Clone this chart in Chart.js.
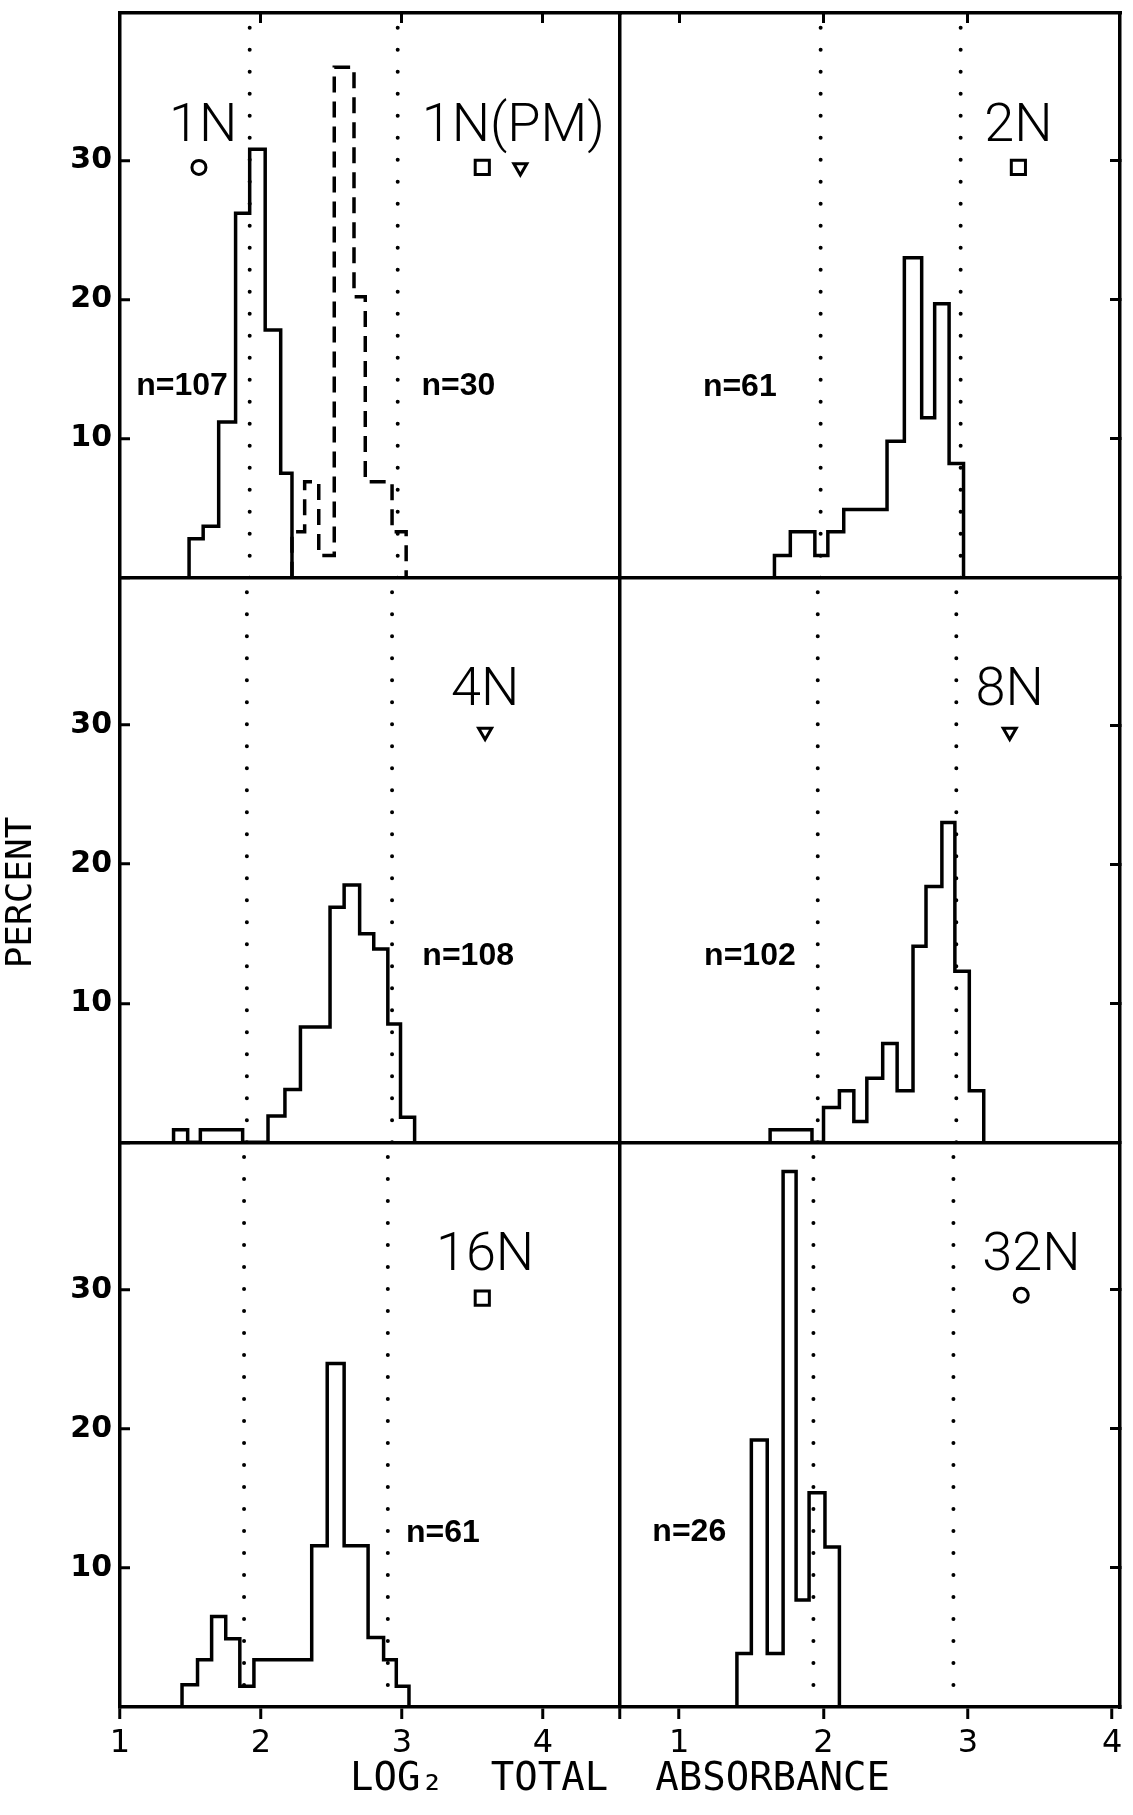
<!DOCTYPE html>
<html>
<head>
<meta charset="utf-8">
<script src="https://cdn.jsdelivr.net/npm/chart.js@4.4.1/dist/chart.umd.min.js"></script>
<style>
  html, body { margin: 0; padding: 0; background: #ffffff; }
  canvas { display: block; }
</style>
</head>
<body>
<canvas id="chart" width="1133" height="1815"></canvas>
<script>
// ---------------- data ----------------
const xTickValues     = [1, 2, 3, 4];
const yTickValues     = [10, 20, 30];
const topTicksLeft    = [2, 3, 4];
const topTicksRight   = [1, 2, 3];
const xLeftRange      = [1, 4.547];
const xRightRange     = [0.59, 4.054];
const yRange          = [0, 40.6];

// histogram bin edges (log2 total absorbance) and heights (percent)
const edges1N   = [1.49, 1.59, 1.70, 1.82, 1.92, 2.03, 2.14, 2.22];
const pct1N     = [2.8, 3.7, 11.2, 26.2, 30.8, 17.8, 7.5];
const edges1NPM = [2.22, 2.31, 2.41, 2.52, 2.66, 2.74, 2.93, 3.03];
const pct1NPM   = [3.3, 6.9, 1.6, 36.7, 20.2, 6.9, 3.3];
const edges2N   = [1.66, 1.77, 1.94, 2.03, 2.14, 2.44, 2.56, 2.68, 2.77, 2.87, 2.97];
const pct2N     = [1.6, 3.3, 1.6, 3.3, 4.9, 9.8, 23.0, 11.5, 19.7, 8.2];
const edges4N   = [1.38, 1.48, 1.57, 1.87, 2.05, 2.17, 2.28, 2.49, 2.59, 2.70, 2.80, 2.90, 2.99, 3.09];
const pct4N     = [0.9, 0, 0.9, 0, 1.9, 3.8, 8.3, 16.9, 18.5, 15.0, 13.9, 8.5, 1.8];
const edges8N   = [1.63, 1.92, 2.00, 2.11, 2.21, 2.30, 2.41, 2.51, 2.62, 2.71, 2.82, 2.91, 3.01, 3.11];
const pct8N     = [0.9, 0, 2.5, 3.7, 1.5, 4.6, 7.1, 3.7, 14.1, 18.4, 23.0, 12.3, 3.7];
const edges16N  = [1.44, 1.55, 1.65, 1.75, 1.85, 1.95, 2.36, 2.47, 2.59, 2.76, 2.87, 2.96, 3.05];
const pct16N    = [1.6, 3.4, 6.5, 4.9, 1.5, 3.4, 11.6, 24.7, 11.6, 5.0, 3.4, 1.5];
const edges32N  = [1.40, 1.50, 1.61, 1.72, 1.81, 1.90, 2.01, 2.11];
const pct32N    = [3.85, 19.2, 3.85, 38.5, 7.7, 15.4, 11.5];

// dotted reference lines per panel
const guides1N  = [1.92, 2.97];
const guides2N  = [1.98, 2.95];
const guides4N  = [1.90, 2.93];
const guides8N  = [1.96, 2.92];
const guides16N = [1.88, 2.90];
const guides32N = [1.93, 2.90];

// symbols under the panel names: [x, y, symbol]
const symbols1N  = [[1.56, 29.5, 'circle'], [3.57, 29.5, 'square'], [3.84, 29.5, 'triangle']];
const symbols2N  = [[3.35, 29.5, 'square']];
const symbols4N  = [[3.59, 29.5, 'triangle']];
const symbols8N  = [[3.29, 29.5, 'triangle']];
const symbols16N = [[3.57, 29.4, 'square']];
const symbols32N = [[3.37, 29.6, 'circle']];

// panel names and sample sizes: [text, x, y]
const names1N  = [['1N', 1.59, 32.4], ['1N(PM)', 3.79, 32.4]];
const names2N  = [['2N', 3.35, 32.4]];
const names4N  = [['4N', 3.59, 32.4]];
const names8N  = [['8N', 3.29, 32.4]];
const names16N = [['16N', 3.59, 32.4]];
const names32N = [['32N', 3.44, 32.4]];
const sizes1N  = [['n=107', 1.44, 13.8], ['n=30', 3.40, 13.8]];
const sizes2N  = [['n=61', 1.42, 13.7]];
const sizes4N  = [['n=108', 3.47, 13.4]];
const sizes8N  = [['n=102', 1.49, 13.4]];
const sizes16N = [['n=61', 3.29, 12.5]];
const sizes32N = [['n=26', 1.07, 12.6]];

const xTitle = 'LOG\u2082  TOTAL  ABSORBANCE';
const yTitle = 'PERCENT';

// ---------------- build chart ----------------
const BLACK = '#000000';
const CLEAR = 'rgba(0,0,0,0)';

const panels = [
  {x: 'xL', y: 'yT', hist: [[edges1N, pct1N, false], [edges1NPM, pct1NPM, true]], guides: guides1N, symbols: symbols1N, names: names1N, sizes: sizes1N},
  {x: 'xR', y: 'yT', hist: [[edges2N, pct2N, false]], guides: guides2N, symbols: symbols2N, names: names2N, sizes: sizes2N},
  {x: 'xL', y: 'yM', hist: [[edges4N, pct4N, false]], guides: guides4N, symbols: symbols4N, names: names4N, sizes: sizes4N},
  {x: 'xR', y: 'yM', hist: [[edges8N, pct8N, false]], guides: guides8N, symbols: symbols8N, names: names8N, sizes: sizes8N},
  {x: 'xL', y: 'yB', hist: [[edges16N, pct16N, false]], guides: guides16N, symbols: symbols16N, names: names16N, sizes: sizes16N},
  {x: 'xR', y: 'yB', hist: [[edges32N, pct32N, false]], guides: guides32N, symbols: symbols32N, names: names32N, sizes: sizes32N}
];

// outline points: bin i spans edges[i]..edges[i+1] at height pct[i]
function stepPoints(edges, pct) {
  const pts = [{x: edges[0], y: 0}];
  for (let i = 0; i < pct.length; i++) pts.push({x: edges[i], y: pct[i]});
  pts.push({x: edges[edges.length - 1], y: 0});
  return pts;
}

const symbolStyle = {
  circle:   {pointStyle: 'circle',   radius: 7,   rotation: 0},
  square:   {pointStyle: 'rect',     radius: 10,  rotation: 0},
  triangle: {pointStyle: 'triangle', radius: 7.5, rotation: 180}
};

const datasets = [];
panels.forEach(p => {
  p.guides.forEach(g => {
    datasets.push({
      type: 'line', xAxisID: p.x, yAxisID: p.y,
      data: [{x: g, y: yRange[0]}, {x: g, y: yRange[1]}],
      borderColor: BLACK, borderWidth: 4, borderDash: [0, 22], borderCapStyle: 'round',
      pointRadius: 0, fill: false
    });
  });
  p.hist.forEach(([edges, pct, dashed]) => {
    datasets.push({
      type: 'line', xAxisID: p.x, yAxisID: p.y,
      data: stepPoints(edges, pct), stepped: 'before',
      borderColor: BLACK, borderWidth: 3.5, borderDash: dashed ? [16, 9] : [],
      borderJoinStyle: 'miter', borderCapStyle: 'butt',
      pointRadius: 0, fill: false
    });
  });
  p.symbols.forEach(([sx, sy, kind]) => {
    const st = symbolStyle[kind];
    datasets.push({
      type: 'scatter', xAxisID: p.x, yAxisID: p.y,
      data: [{x: sx, y: sy}],
      pointStyle: st.pointStyle, pointRadius: st.radius, pointRotation: st.rotation,
      pointBorderColor: BLACK, pointBackgroundColor: CLEAR, pointBorderWidth: 3, showLine: false
    });
  });
});

const noPad = s => { s.paddingLeft = 0; s.paddingRight = 0; s.paddingTop = 0; s.paddingBottom = 0; };
const setTicks = vals => s => { s.ticks = vals.map(v => ({value: v})); };
const border = {display: true, color: BLACK, width: 3.5};

function leftY(withDivider) {
  return {
    type: 'linear', axis: 'y', position: 'left', stack: 'rows', stackWeight: 1,
    min: yRange[0], max: yRange[1],
    afterBuildTicks: setTicks(withDivider ? [0].concat(yTickValues) : yTickValues),
    afterFit: s => { s.width = 120; noPad(s); },
    grid: {
      drawOnChartArea: true, drawTicks: true, tickLength: -10,
      color: c => (c.tick && c.tick.value === 0) ? BLACK : CLEAR,
      tickColor: BLACK, lineWidth: 3.5, tickWidth: 3
    },
    border: border,
    ticks: {
      autoSkip: false, padding: 18, color: BLACK,
      font: {family: 'DejaVu Sans', size: 30, weight: 'bold'},
      callback: v => yTickValues.includes(v) ? String(v) : ''
    }
  };
}
function rightY() {
  return {
    type: 'linear', axis: 'y', position: 'right', stack: 'rows', stackWeight: 1,
    min: yRange[0], max: yRange[1],
    afterBuildTicks: setTicks(yTickValues),
    afterFit: s => { s.width = 5; noPad(s); },
    grid: {drawOnChartArea: false, drawTicks: true, tickLength: -10, color: BLACK, tickColor: BLACK, lineWidth: 3, tickWidth: 3},
    border: border,
    ticks: {display: false}
  };
}
function topX(range, vals) {
  return {
    type: 'linear', axis: 'x', position: 'top', stack: 'cols', stackWeight: 1,
    min: range[0], max: range[1],
    afterBuildTicks: setTicks(vals),
    afterFit: s => { s.height = 3; noPad(s); },
    grid: {drawOnChartArea: false, drawTicks: true, tickLength: -10, color: BLACK, tickColor: BLACK, lineWidth: 3, tickWidth: 3},
    border: border,
    ticks: {display: false}
  };
}
function bottomX(range, divider) {
  const vals = divider ? xTickValues.concat([range[1]]) : xTickValues;
  return {
    type: 'linear', axis: 'x', position: 'bottom', stack: 'cols', stackWeight: 1,
    min: range[0], max: range[1],
    afterBuildTicks: setTicks(vals),
    afterFit: s => { s.height = 50; noPad(s); },
    grid: {
      drawOnChartArea: divider, drawTicks: true, tickLength: 12,
      color: c => (divider && c.tick && c.tick.value === range[1]) ? BLACK : CLEAR,
      tickColor: BLACK, lineWidth: 3.5, tickWidth: 3
    },
    border: border,
    ticks: {
      autoSkip: false, maxRotation: 0, minRotation: 0, padding: 5, color: BLACK,
      font: {family: 'DejaVu Sans', size: 32},
      callback: v => xTickValues.includes(v) ? String(v) : ''
    }
  };
}

const yMid = leftY(true);
yMid.title = {
  display: true, text: yTitle + '   ', color: BLACK,
  font: {family: 'DejaVu Sans Mono', size: 36, lineHeight: 1},
  padding: {top: 4, bottom: 0}
};

// order matters for stacked layout placement
const scales = {
  xTR: topX(xRightRange, topTicksRight),
  xTL: topX(xLeftRange, topTicksLeft),
  xL: bottomX(xLeftRange, true),
  xR: bottomX(xRightRange, false),
  yB: leftY(false),
  yM: yMid,
  yT: leftY(true),
  yTR: rightY(),
  yMR: rightY(),
  yBR: rightY()
};

const textPlugin = {
  id: 'panelText',
  afterDatasetsDraw(chart) {
    const ctx = chart.ctx;
    ctx.save();
    ctx.fillStyle = BLACK;
    ctx.textAlign = 'center';
    ctx.textBaseline = 'middle';
    panels.forEach(p => {
      const xs = chart.scales[p.x], ys = chart.scales[p.y];
      ctx.font = '300 54px Roboto, "Open Sans", sans-serif';
      p.names.forEach(([t, tx, ty]) => ctx.fillText(t, xs.getPixelForValue(tx), ys.getPixelForValue(ty)));
      ctx.font = 'bold 32px "Liberation Sans", Arial, sans-serif';
      p.sizes.forEach(([t, tx, ty]) => ctx.fillText(t, xs.getPixelForValue(tx), ys.getPixelForValue(ty)));
    });
    ctx.restore();
  }
};

new Chart(document.getElementById('chart'), {
  type: 'line',
  data: {datasets: datasets},
  options: {
    responsive: false,
    devicePixelRatio: 1,
    animation: false,
    events: [],
    layout: {padding: {top: 0, left: 0, right: 0, bottom: 16}},
    scales: scales,
    plugins: {
      legend: {display: false},
      tooltip: {enabled: false},
      title: {
        display: true, text: xTitle, position: 'bottom', fullSize: false, align: 'center',
        color: BLACK,
        font: {family: 'DejaVu Sans Mono', size: 39, weight: 'normal', lineHeight: 1},
        padding: {top: 3, bottom: 0}
      }
    }
  },
  plugins: [textPlugin]
});
</script>
</body>
</html>
